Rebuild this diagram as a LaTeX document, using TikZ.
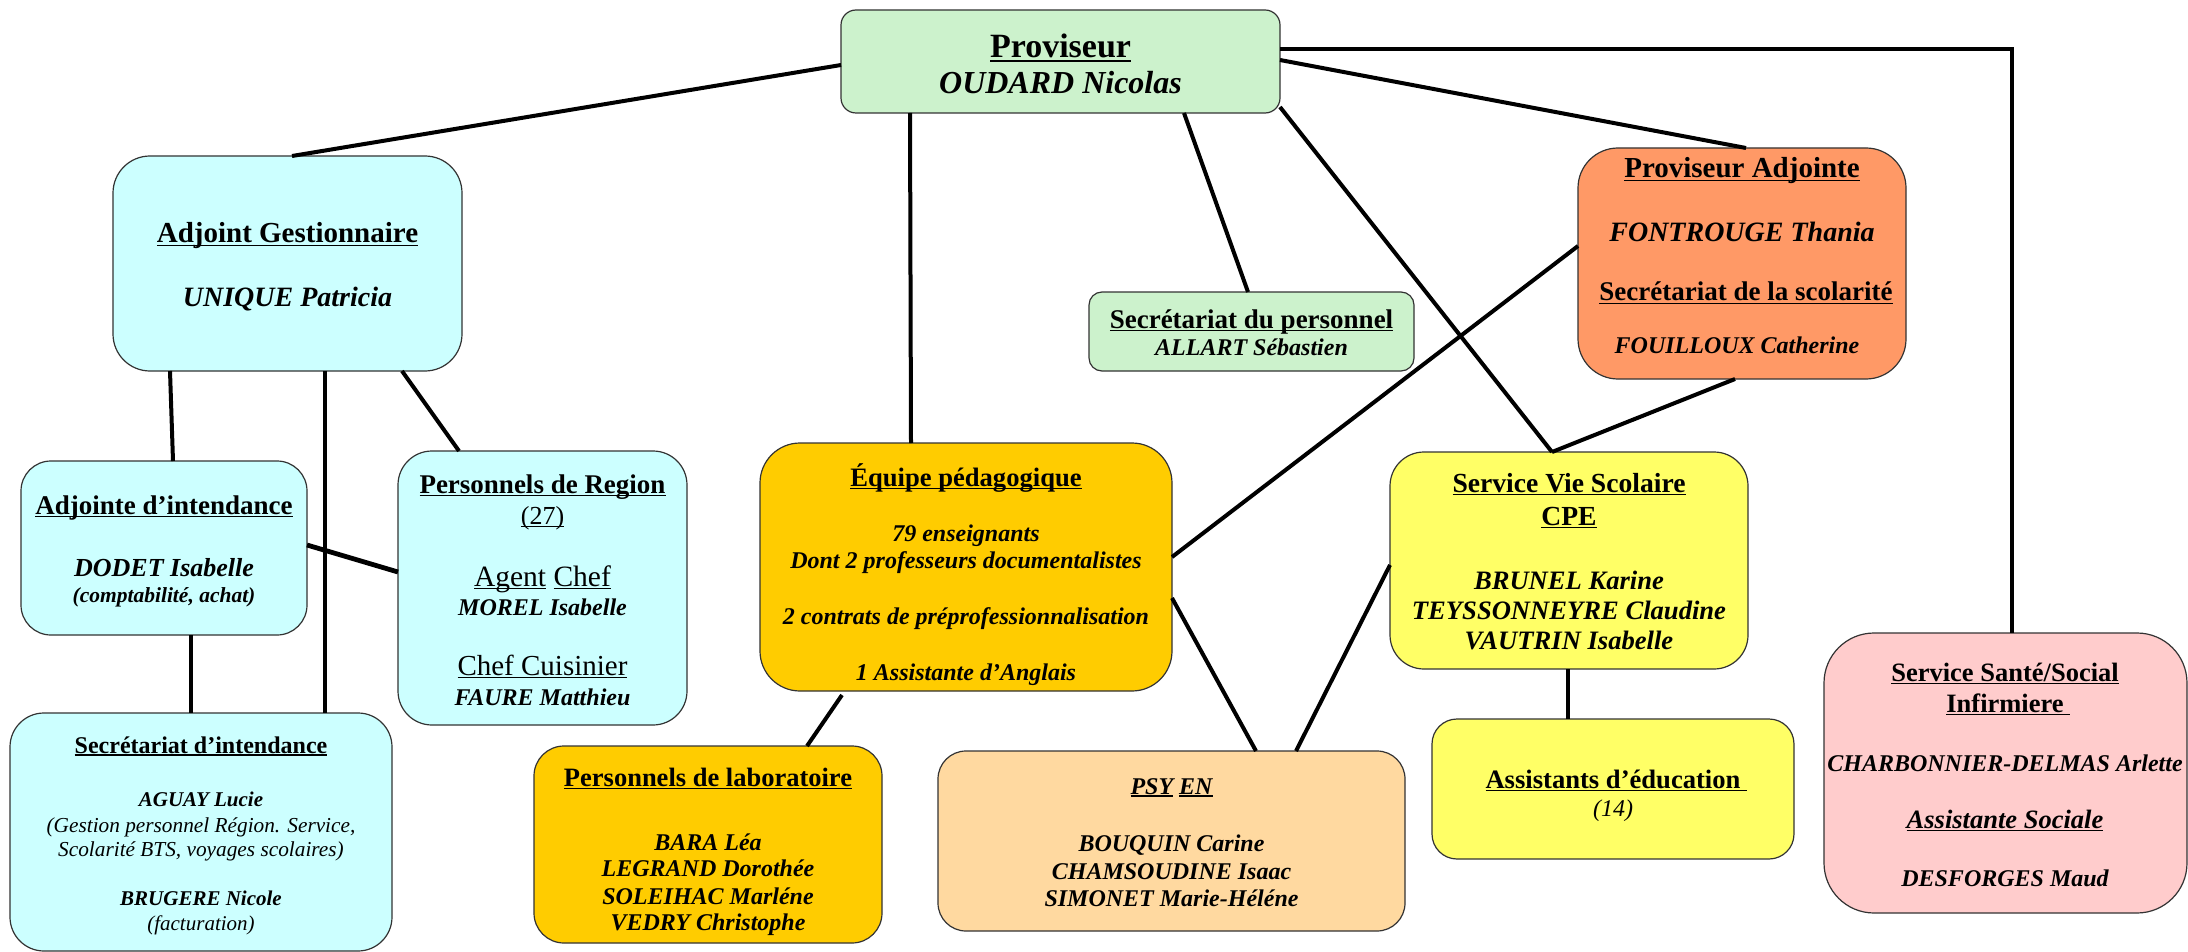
\documentclass[tikz,border=0pt]{standalone}
\usepackage{fontspec}
\setmainfont{Liberation Serif}
\newlength\ulw
\newcommand\myul[1]{\settowidth\ulw{#1}\rlap{\rule[-0.11em]{\ulw}{0.05em}}#1}
\newcommand\fsz[1]{\fontsize{#1}{#1}\selectfont}
\definecolor{cgreen}{RGB}{204,242,204}
\definecolor{ccyan}{RGB}{204,255,255}
\definecolor{corange}{RGB}{255,153,102}
\definecolor{cgold}{RGB}{255,204,0}
\definecolor{cyellow}{RGB}{255,255,102}
\definecolor{cpeach}{RGB}{255,217,160}
\definecolor{cpink}{RGB}{255,204,204}
\tikzset{
  box/.style={draw=black!80, line width=1.2pt, anchor=north west, inner sep=0pt, outer sep=0pt},
  conn/.style={line width=4pt, black},
  thickconn/.style={line width=4.8pt, black},
  txt/.style={anchor=base, inner sep=0pt, outer sep=0pt}
}
\begin{document}
\begin{tikzpicture}[x=1pt,y=-1pt]
\fill[white] (0,0) rectangle (2188,952);
\useasboundingbox (0,0) rectangle (2188,952);

% boxes
\node[box, fill=cgreen, rounded corners=15pt, minimum width=439pt, minimum height=103pt] (prov) at (841,10) {};
\node[box, fill=ccyan, rounded corners=37pt, minimum width=349pt, minimum height=215pt] (adjg) at (113,156) {};
\node[box, fill=cgreen, rounded corners=13pt, minimum width=325pt, minimum height=79pt] (secp) at (1089,292) {};
\node[box, fill=corange, rounded corners=40pt, minimum width=328pt, minimum height=231pt] (pa) at (1578,148) {};
\node[box, fill=ccyan, rounded corners=30pt, minimum width=286pt, minimum height=174pt] (adji) at (21,461) {};
\node[box, fill=ccyan, rounded corners=34pt, minimum width=289pt, minimum height=274pt] (preg) at (398,451) {};
\node[box, fill=ccyan, rounded corners=34pt, minimum width=382pt, minimum height=238pt] (seci) at (10,713) {};
\node[box, fill=cgold, rounded corners=40pt, minimum width=412pt, minimum height=248pt] (eq) at (760,443) {};
\node[box, fill=cpeach, rounded corners=28pt, minimum width=467pt, minimum height=180pt] (psy) at (938,751) {};
\node[box, fill=cgold, rounded corners=30pt, minimum width=348pt, minimum height=197pt] (lab) at (534,746) {};
\node[box, fill=cyellow, rounded corners=34pt, minimum width=358pt, minimum height=217pt] (svs) at (1390,452) {};
\node[box, fill=cyellow, rounded corners=25pt, minimum width=362pt, minimum height=140pt] (ased) at (1432,719) {};
\node[box, fill=cpink, rounded corners=50pt, minimum width=363pt, minimum height=280pt] (sante) at (1824,633) {};

% connectors
\draw[conn] ([yshift=-55pt]prov.north west) -- ([xshift=179pt]adjg.north west);
\draw[conn] ([xshift=69pt]prov.south west) -- ([xshift=151pt]eq.north west);
\draw[conn] ([xshift=343pt]prov.south west) -- ([xshift=159pt]secp.north west);
\draw[conn] ([yshift=6pt]prov.south east) -- ([xshift=162pt]svs.north west);
\draw[conn] ([yshift=-50pt]prov.north east) -- ([xshift=168pt]pa.north west);
\draw[thickconn] ([yshift=-39pt]prov.north east) -| ([xshift=188pt]sante.north west);
\draw[conn] ([yshift=-98pt]pa.north west) -- ([yshift=-114pt]eq.north east);
\draw[conn] ([xshift=157pt]pa.south west) -- ([xshift=162pt]svs.north west);
\draw[conn] ([yshift=-113pt]svs.north west) -- ([xshift=358pt]psy.north west);
\draw[conn] ([yshift=-155pt]eq.north east) -- ([xshift=318pt]psy.north west);
\draw[conn] ([xshift=82pt,yshift=-4pt]eq.south west) -- ([xshift=273pt]lab.north west);
\draw[thickconn] ([xshift=178pt]svs.south west) -- ([xshift=136pt]ased.north west);
\draw[conn] ([xshift=57pt]adjg.south west) -- ([xshift=152pt]adji.north west);
\draw[thickconn] ([xshift=212pt]adjg.south west) -- ([xshift=315pt]seci.north west);
\draw[conn] ([xshift=289pt]adjg.south west) -- ([xshift=61pt]preg.north west);
\draw[thickconn] ([yshift=-84pt]adji.north east) -- ([yshift=-121pt]preg.north west);
\draw[thickconn] ([xshift=170pt]adji.south west) -- ([xshift=181pt]seci.north west);

% texts: Proviseur
\node[txt,font=\fsz{34}\bfseries] (prov-t) at (1060.5,58) {\myul{Proviseur}};
\node[txt,font=\fsz{32}\bfseries\itshape] (prov-n) at (1060.5,94) {OUDARD Nicolas};
% Adjoint Gestionnaire
\node[txt,font=\fsz{29}\bfseries] (adjg-t) at (287.5,243) {\myul{Adjoint Gestionnaire}};
\node[txt,font=\fsz{28}\bfseries\itshape] (adjg-n) at (287.5,306) {UNIQUE Patricia};
% Secretariat du personnel
\node[txt,font=\fsz{27}\bfseries] (secp-t) at (1251.5,328) {\myul{Secrétariat du personnel}};
\node[txt,font=\fsz{24}\bfseries\itshape] (secp-n) at (1251.5,355) {ALLART Sébastien};
% Proviseur Adjointe
\node[txt,font=\fsz{29}\bfseries] (pa-t) at (1742,178) {\myul{Proviseur Adjointe}};
\node[txt,font=\fsz{28}\bfseries\itshape] (pa-n) at (1742,242) {FONTROUGE Thania};
\node[txt,font=\fsz{27}\bfseries] (pa-t2) at (1746,301) {\myul{Secrétariat de la scolarité}};
\node[txt,font=\fsz{24}\bfseries\itshape] (pa-n2) at (1737,353) {FOUILLOUX Catherine};
% Adjointe d'intendance
\node[txt,font=\fsz{27}\bfseries] (adji-t) at (164,514) {\myul{Adjointe d’intendance}};
\node[txt,font=\fsz{26}\bfseries\itshape] (adji-n) at (164,576) {DODET Isabelle};
\node[txt,font=\fsz{21.5}\bfseries\itshape] (adji-r) at (164,602) {(comptabilité, achat)};
% Personnels de Region
\node[txt,font=\fsz{27}\bfseries] (preg-t) at (542.5,493) {\myul{Personnels de Region}};
\node[txt,font=\fsz{26}] (preg-c) at (542.5,524) {\myul{(27)}};
\node[txt,font=\fsz{29.5}] (preg-a) at (542.5,586) {\myul{Agent} \myul{Chef}};
\node[txt,font=\fsz{24}\bfseries\itshape] (preg-an) at (542.5,615) {MOREL Isabelle};
\node[txt,font=\fsz{29}] (preg-b) at (542.5,675) {\myul{Chef Cuisinier}};
\node[txt,font=\fsz{24}\bfseries\itshape] (preg-bn) at (542.5,705) {FAURE Matthieu};
% Secretariat d'intendance
\node[txt,font=\fsz{24}\bfseries] (seci-t) at (201,753) {\myul{Secrétariat d’intendance}};
\node[txt,font=\fsz{21}\bfseries\itshape] (seci-n1) at (201,806) {AGUAY Lucie};
\node[txt,font=\fsz{21.3}\itshape] (seci-r1) at (201,832) {(Gestion personnel Région. Service,};
\node[txt,font=\fsz{21.3}\itshape] (seci-r2) at (201,856) {Scolarité BTS, voyages scolaires)};
\node[txt,font=\fsz{21}\bfseries\itshape] (seci-n2) at (201,905) {BRUGERE Nicole};
\node[txt,font=\fsz{21}\itshape] (seci-r3) at (201,930) {(facturation)};
% Equipe pedagogique
\node[txt,font=\fsz{26.6}\bfseries] (eq-t) at (966,486) {\myul{Équipe pédagogique}};
\node[txt,font=\fsz{24}\bfseries\itshape] (eq-1) at (966,541) {79 enseignants};
\node[txt,font=\fsz{24}\bfseries\itshape] (eq-2) at (966,568) {Dont 2 professeurs documentalistes};
\node[txt,font=\fsz{24}\bfseries\itshape] (eq-3) at (966,624) {2 contrats de préprofessionnalisation};
\node[txt,font=\fsz{24}\bfseries\itshape] (eq-4) at (966,680) {1 Assistante d’Anglais};
% Service Vie Scolaire
\node[txt,font=\fsz{27.6}\bfseries] (svs-t) at (1569,492) {\myul{Service Vie Scolaire}};
\node[txt,font=\fsz{27.6}\bfseries] (svs-c) at (1569,525) {\myul{CPE}};
\node[txt,font=\fsz{26.6}\bfseries\itshape] (svs-1) at (1569,589) {BRUNEL Karine};
\node[txt,font=\fsz{26.6}\bfseries\itshape] (svs-2) at (1569,619) {TEYSSONNEYRE Claudine};
\node[txt,font=\fsz{26.6}\bfseries\itshape] (svs-3) at (1569,649) {VAUTRIN Isabelle};
% Service Sante/Social
\node[txt,font=\fsz{26.5}\bfseries] (sante-t) at (2005,681) {\myul{Service Santé/Social}};
\node[txt,font=\fsz{26.5}\bfseries] (sante-i) at (2005,712) {\myul{Infirmiere\ }};
\node[txt,font=\fsz{24}\bfseries\itshape] (sante-1) at (2005,771) {CHARBONNIER-DELMAS Arlette};
\node[txt,font=\fsz{26.5}\bfseries\itshape] (sante-a) at (2005,828) {\myul{Assistante Sociale}};
\node[txt,font=\fsz{24}\bfseries\itshape] (sante-2) at (2005,886) {DESFORGES Maud};
% Personnels de laboratoire
\node[txt,font=\fsz{26.5}\bfseries] (lab-t) at (708,786) {\myul{Personnels de laboratoire}};
\node[txt,font=\fsz{24}\bfseries\itshape] (lab-1) at (708,850) {BARA Léa};
\node[txt,font=\fsz{24}\bfseries\itshape] (lab-2) at (708,876) {LEGRAND Dorothée};
\node[txt,font=\fsz{24}\bfseries\itshape] (lab-3) at (708,904) {SOLEIHAC Marléne};
\node[txt,font=\fsz{24}\bfseries\itshape] (lab-4) at (708,930) {VEDRY Christophe};
% PSY EN
\node[txt,font=\fsz{24}\bfseries\itshape] (psy-t) at (1171.5,794) {\myul{PSY} \myul{EN}};
\node[txt,font=\fsz{24}\bfseries\itshape] (psy-1) at (1171.5,851) {BOUQUIN Carine};
\node[txt,font=\fsz{24}\bfseries\itshape] (psy-2) at (1171.5,879) {CHAMSOUDINE Isaac};
\node[txt,font=\fsz{24}\bfseries\itshape] (psy-3) at (1171.5,906) {SIMONET Marie-Héléne};
% Assistants d'education
\node[txt,font=\fsz{26.6}\bfseries] (ased-t) at (1613,788) {\myul{Assistants d’éducation\ }};
\node[txt,font=\fsz{24}\itshape] (ased-n) at (1613,816) {(14)};
\end{tikzpicture}
\end{document}
